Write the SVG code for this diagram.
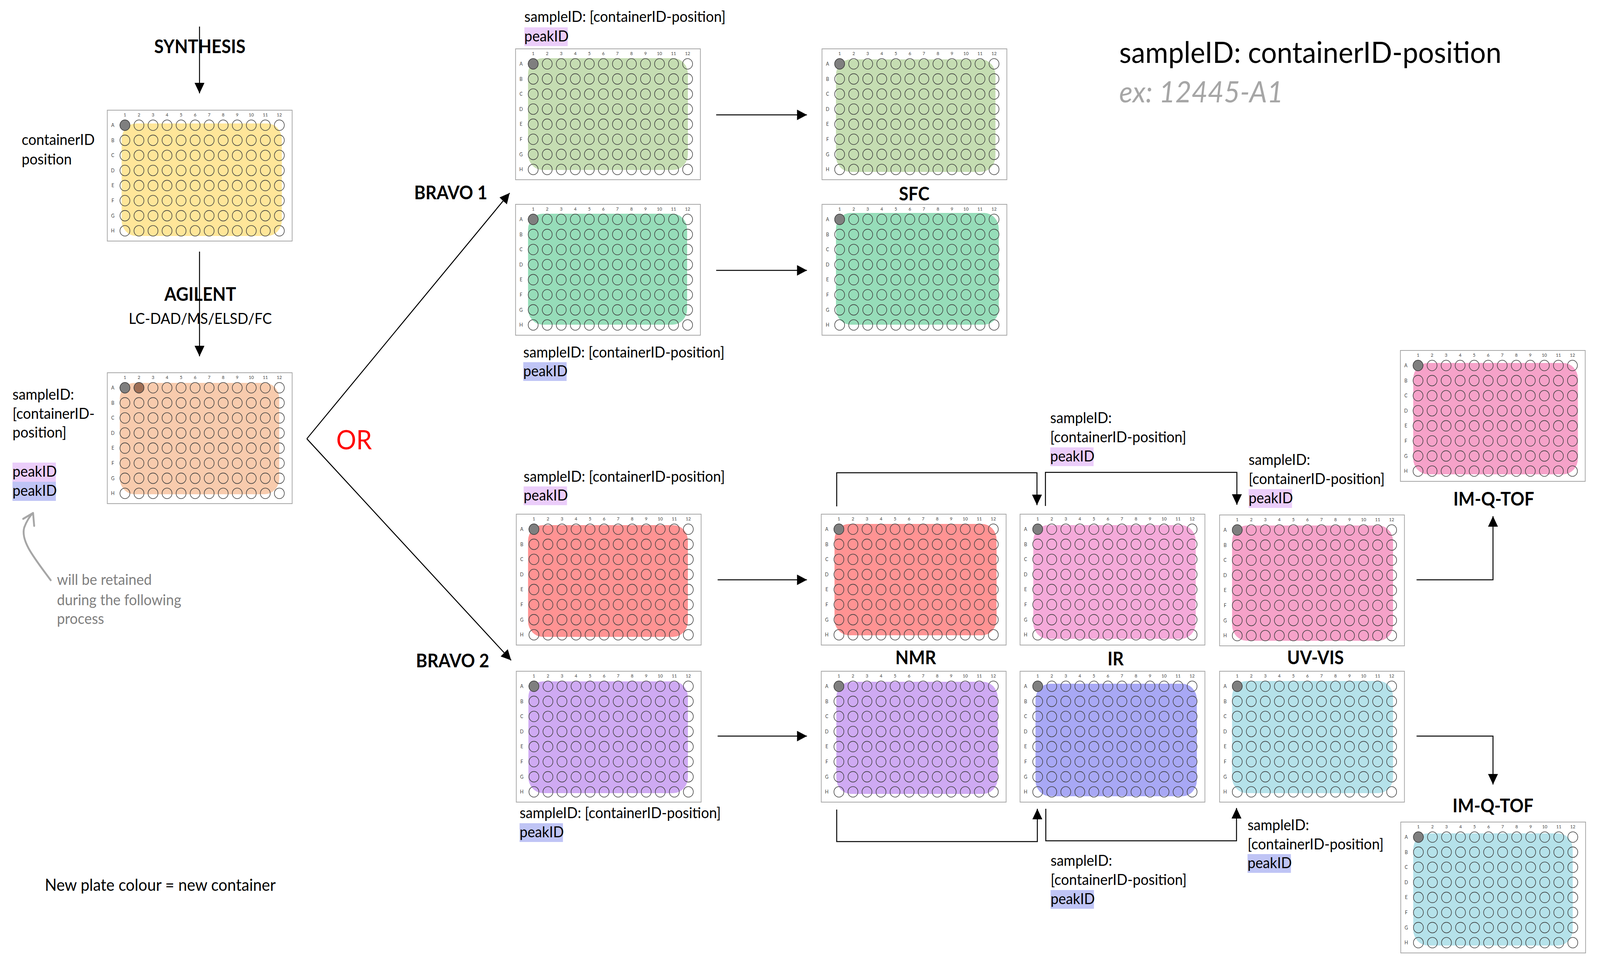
<svg xmlns="http://www.w3.org/2000/svg" width="4354" height="2475" viewBox="0 0 4354 2475">
<style>
.t{font-family:Lato,"Liberation Sans",sans-serif;font-size:38.5px;fill:#000}
.h{font-weight:bold;font-size:47px}
.c{text-anchor:middle}
.g{fill:#7F7F7F}
.num{font-family:Lato,"Liberation Sans",sans-serif;font-size:12px;fill:#404040;text-anchor:middle}
.let{font-family:Lato,"Liberation Sans",sans-serif;font-size:12.5px;fill:#404040;text-anchor:middle}
.conn{stroke:#000;stroke-width:2.6;fill:none}
.well{fill:none;stroke:#404040;stroke-width:1.6}
.frame{fill:#fff;stroke:#A6A6A6;stroke-width:2}
.ov{rx:40px;ry:40px}
.hp{fill:#EBCDFA}
.hb{fill:#BFC4F5}
</style>
<defs>
<marker id="arr" viewBox="0 0 10 10" refX="10" refY="5" markerWidth="27" markerHeight="27" markerUnits="userSpaceOnUse" orient="auto"><path d="M0,0 L10,5 L0,10 z" fill="#000"/></marker>
<g id="frame">
<rect class="frame" x="0" y="0" width="503" height="335"/>
<text class="num" x="48" y="16">1</text><text class="num" x="86.2" y="16">2</text><text class="num" x="124.4" y="16">3</text><text class="num" x="162.6" y="16">4</text><text class="num" x="200.8" y="16">5</text><text class="num" x="239" y="16">6</text><text class="num" x="277.2" y="16">7</text><text class="num" x="315.4" y="16">8</text><text class="num" x="353.6" y="16">9</text><text class="num" x="391.8" y="16">10</text><text class="num" x="430" y="16">11</text><text class="num" x="468.2" y="16">12</text>
<text class="let" x="15" y="43">A</text><text class="let" x="15" y="81.6">B</text><text class="let" x="15" y="120.2">C</text><text class="let" x="15" y="158.8">D</text><text class="let" x="15" y="197.4">E</text><text class="let" x="15" y="236">F</text><text class="let" x="15" y="274.6">G</text><text class="let" x="15" y="313.2">H</text>
</g>
<g id="wr" class="well">
<circle cx="48" cy="0" r="13.5"/><circle cx="86.2" cy="0" r="13.5"/><circle cx="124.4" cy="0" r="13.5"/><circle cx="162.6" cy="0" r="13.5"/><circle cx="200.8" cy="0" r="13.5"/><circle cx="239" cy="0" r="13.5"/><circle cx="277.2" cy="0" r="13.5"/><circle cx="315.4" cy="0" r="13.5"/><circle cx="353.6" cy="0" r="13.5"/><circle cx="391.8" cy="0" r="13.5"/><circle cx="430" cy="0" r="13.5"/><circle cx="468.2" cy="0" r="13.5"/>
</g>
<g id="wells">
<use href="#wr" y="38.5"/><use href="#wr" y="77.1"/><use href="#wr" y="115.7"/><use href="#wr" y="154.3"/><use href="#wr" y="192.9"/><use href="#wr" y="231.5"/><use href="#wr" y="270.1"/><use href="#wr" y="308.7"/>
<circle cx="48" cy="38.5" r="13.5" fill="#7F7F7F" stroke="#404040" stroke-width="1.6"/>
</g>
</defs>
<rect width="4354" height="2475" fill="#fff"/>
<g transform="scale(0.9407 1)">

<g id="connectors">
<path class="conn" d="M543,68 V239" marker-end="url(#arr)"/>
<path class="conn" d="M543,644 V912" marker-end="url(#arr)"/>
<path class="conn" d="M835,1123 L1387,494" marker-end="url(#arr)"/>
<path class="conn" d="M835,1123 L1391,1690" marker-end="url(#arr)"/>
<path class="conn" d="M1949,294 H2196" marker-end="url(#arr)"/>
<path class="conn" d="M1949,692 H2196" marker-end="url(#arr)"/>
<path class="conn" d="M1953,1484 H2196" marker-end="url(#arr)"/>
<path class="conn" d="M1953,1884 H2196" marker-end="url(#arr)"/>
<path class="conn" d="M2277,1296 V1210 H2822 V1293" marker-end="url(#arr)"/>
<path class="conn" d="M2845,1295 V1209 H3366 V1292" marker-end="url(#arr)"/>
<path class="conn" d="M2277,2072 V2154 H2823 V2070" marker-end="url(#arr)"/>
<path class="conn" d="M2846,2070 V2152 H3365 V2068" marker-end="url(#arr)"/>
<path class="conn" d="M3855,1484 H4063 V1321" marker-end="url(#arr)"/>
<path class="conn" d="M3855,1884 H4063 V2008" marker-end="url(#arr)"/>
<path d="M138,1485 C95,1430 55,1385 66,1350 C72,1335 80,1322 90,1313 M63,1328 L90,1313 L93,1346" fill="none" stroke="#A6A6A6" stroke-width="5" stroke-linecap="round" stroke-linejoin="round"/>
</g>

<g id="plate-synthesis" transform="translate(292,282)"><use href="#frame"/><rect class="ov" x="39" y="34" width="436" height="288" fill="#FFE699"/><use href="#wells"/></g>
<g id="plate-agilent" transform="translate(292,954)"><use href="#frame"/><rect class="ov" x="34" y="26" width="434" height="285" fill="#F8CBAD"/><use href="#wells"/><circle cx="86.2" cy="38.5" r="13.5" fill="#A06F55" stroke="#404040" stroke-width="1.6"/></g>
<g id="plate-bravo1-a" transform="translate(1403,125)"><use href="#frame"/><rect class="ov" x="34" y="24" width="435" height="286" fill="#C5DDB2"/><use href="#wells"/></g>
<g id="plate-bravo1-b" transform="translate(1403,523)"><use href="#frame"/><rect class="ov" x="34" y="24" width="433" height="284" fill="#96DDB9"/><use href="#wells"/></g>
<g id="plate-sfc-a" transform="translate(2237,125)"><use href="#frame"/><rect class="ov" x="38" y="27" width="434" height="288" fill="#C5DDB2"/><use href="#wells"/></g>
<g id="plate-sfc-b" transform="translate(2237,523)"><use href="#frame"/><rect class="ov" x="38" y="22" width="443" height="286" fill="#96DDB9"/><use href="#wells"/></g>
<g id="plate-bravo2-a" transform="translate(1405,1316)"><use href="#frame"/><rect class="ov" x="32" y="28" width="435" height="286" fill="#FF9393"/><use href="#wells"/></g>
<g id="plate-bravo2-b" transform="translate(1405,1718)"><use href="#frame"/><rect class="ov" x="33" y="26" width="434" height="286" fill="#CFAAF3"/><use href="#wells"/></g>
<g id="plate-nmr-a" transform="translate(2235,1316)"><use href="#frame"/><rect class="ov" x="36" y="25" width="441" height="285" fill="#FF9393"/><use href="#wells"/></g>
<g id="plate-nmr-b" transform="translate(2235,1718)"><use href="#frame"/><rect class="ov" x="41" y="27" width="439" height="287" fill="#CFAAF3"/><use href="#wells"/></g>
<g id="plate-ir-a" transform="translate(2776,1316)"><use href="#frame"/><rect class="ov" x="36" y="28" width="442" height="291" fill="#F5AADA"/><use href="#wells"/></g>
<g id="plate-ir-b" transform="translate(2776,1718)"><use href="#frame"/><rect class="ov" x="42" y="32" width="439" height="288" fill="#A8A8F5"/><use href="#wells"/></g>
<g id="plate-uvvis-a" transform="translate(3319,1318)"><use href="#frame"/><rect class="ov" x="34" y="27" width="438" height="295" fill="#F6A2C9"/><use href="#wells"/></g>
<g id="plate-uvvis-b" transform="translate(3319,1718)"><use href="#frame"/><rect class="ov" x="34" y="25" width="438" height="287" fill="#B5E2EA"/><use href="#wells"/></g>
<g id="plate-imqtof-a" transform="translate(3811,897)"><use href="#frame"/><rect class="ov" x="35" y="32" width="448" height="285" fill="#F6A2C9"/><use href="#wells"/></g>
<g id="plate-imqtof-b" transform="translate(3812,2104)"><use href="#frame"/><rect class="ov" x="34" y="29" width="434" height="287" fill="#B5E2EA"/><use href="#wells"/></g>

<g id="labels">
<text class="t h c" x="544" y="136">SYNTHESIS</text>
<text class="t" x="59" y="371">containerID</text>
<text class="t" x="59" y="421">position</text>
<text class="t h c" x="545" y="770">AGILENT</text>
<text class="t c" x="545" y="829">LC-DAD/MS/ELSD/FC</text>

<rect class="hp" x="34" y="1184" width="118" height="49"/>
<rect class="hb" x="34" y="1233" width="118" height="49"/>
<text class="t" x="34" y="1023">sampleID:</text>
<text class="t" x="34" y="1072">[containerID-</text>
<text class="t" x="34" y="1120">position]</text>
<text class="t" x="34" y="1220">peakID</text>
<text class="t" x="34" y="1269">peakID</text>

<text class="t g" x="155" y="1497">will be retained</text>
<text class="t g" x="155" y="1549">during the following</text>
<text class="t g" x="155" y="1597">process</text>
<text class="t" x="122" y="2280" style="font-size:42.5px">New plate colour = new container</text>

<text class="t" x="915" y="1150" style="font-size:68px;fill:#FF0000">OR</text>
<text class="t h" x="1127" y="510">BRAVO 1</text>
<text class="t h" x="1132" y="1708">BRAVO 2</text>
<text class="t h c" x="2488" y="513">SFC</text>
<text class="t h c" x="2492" y="1700">NMR</text>
<text class="t h c" x="3036" y="1703">IR</text>
<text class="t h c" x="3580" y="1700">UV-VIS</text>
<text class="t h c" x="4065" y="1294">IM-Q-TOF</text>
<text class="t h c" x="4063" y="2079">IM-Q-TOF</text>

<text class="t" x="3046" y="161" style="font-size:76px">sampleID: containerID-position</text>
<text class="t" x="3046" y="262" style="font-size:76px;font-style:italic;fill:#A6A6A6">ex: 12445-A1</text>

<rect class="hp" x="1427" y="70" width="118" height="48"/>
<text class="t" x="1427" y="56">sampleID: [containerID-position]</text>
<text class="t" x="1427" y="106">peakID</text>

<rect class="hb" x="1424" y="927" width="118" height="48"/>
<text class="t" x="1424" y="915">sampleID: [containerID-position]</text>
<text class="t" x="1424" y="963">peakID</text>

<rect class="hp" x="1425" y="1245" width="118" height="48"/>
<text class="t" x="1425" y="1233">sampleID: [containerID-position]</text>
<text class="t" x="1425" y="1281">peakID</text>

<rect class="hb" x="1414" y="2107" width="118" height="48"/>
<text class="t" x="1414" y="2094">sampleID: [containerID-position]</text>
<text class="t" x="1414" y="2143">peakID</text>

<rect class="hp" x="2858" y="1145" width="118" height="48"/>
<text class="t" x="2858" y="1083">sampleID:</text>
<text class="t" x="2858" y="1132">[containerID-position]</text>
<text class="t" x="2858" y="1181">peakID</text>

<rect class="hp" x="3398" y="1252" width="118" height="48"/>
<text class="t" x="3398" y="1190">sampleID:</text>
<text class="t" x="3398" y="1239">[containerID-position]</text>
<text class="t" x="3398" y="1288">peakID</text>

<rect class="hb" x="2859" y="2278" width="118" height="48"/>
<text class="t" x="2859" y="2216">sampleID:</text>
<text class="t" x="2859" y="2265">[containerID-position]</text>
<text class="t" x="2859" y="2314">peakID</text>

<rect class="hb" x="3395" y="2186" width="118" height="48"/>
<text class="t" x="3395" y="2125">sampleID:</text>
<text class="t" x="3395" y="2174">[containerID-position]</text>
<text class="t" x="3395" y="2222">peakID</text>
</g>
</g>
</svg>
